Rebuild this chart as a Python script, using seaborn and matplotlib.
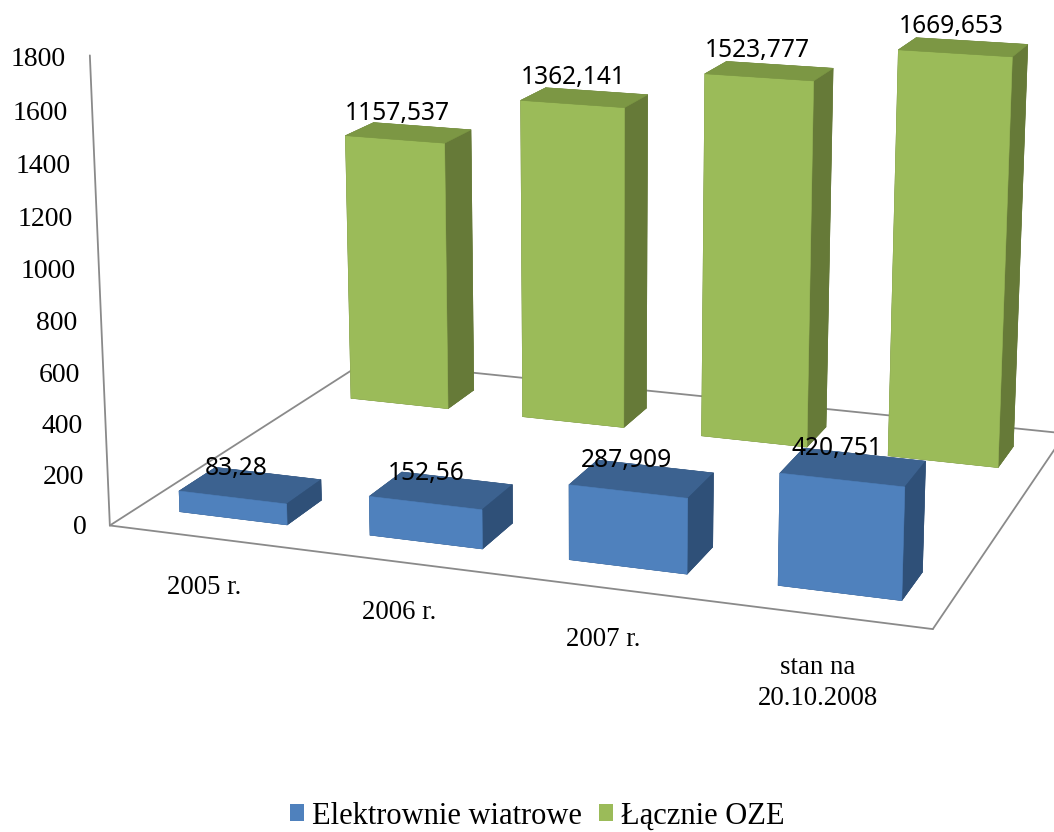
import matplotlib
matplotlib.use('Agg')
import matplotlib.pyplot as plt
import seaborn as sns
from matplotlib.patches import Patch
from mpl_toolkits.mplot3d import proj3d

# ---- data ----
categories = ['2005 r.', '2006 r.', '2007 r.', 'stan na\n20.10.2008']
wind = [83.28, 152.56, 287.909, 420.751]
total = [1157.537, 1362.141, 1523.777, 1669.653]
wind_labels = ['83,28', '152,56', '287,909', '420,751']
total_labels = ['1157,537', '1362,141', '1523,777', '1669,653']
series_names = ['Elektrownie wiatrowe', 'Łącznie OZE']
z_ticks = [0, 200, 400, 600, 800, 1000, 1200, 1400, 1600, 1800]

sns.set_theme(style='white')
plt.rcParams['font.family'] = ['Liberation Serif', 'DejaVu Serif']

W, H = 1054, 832
BLUE = sns.color_palette(['#4F81BD', '#3C6290', '#2F5078'])
GREEN = sns.color_palette(['#9BBB59', '#7C9744', '#667A38'])
GRID = '#8A8A8A'

fig = plt.figure(figsize=(W / 100, H / 100), dpi=100, facecolor='white')
ax = fig.add_axes([54.16 / W, 18.11 / H, 1083.9 / W, 1083.9 / H], projection='3d')
ax.computed_zorder = False


def faces(c):
    # -z, +z, -y, +y, -x, +x
    return [c[2], c[1], c[0], c[2], c[2], c[2]]


def bars(values, y0, depth, pal, z):
    for i, v in enumerate(values):
        col = faces(pal)
        ax.bar3d(i + 0.22, y0, 0, 0.57, depth, v, color=col, edgecolor=col,
                 linewidth=0.4, shade=False, zorder=z)


# floor and value axis
n = len(categories)
zmax = z_ticks[-1]
for xs, ys, zs in [([0, n], [0, 0], [0, 0]), ([0, 0], [0, 1], [0, 0]),
                   ([0, n], [1, 1], [0, 0]), ([n, n], [0, 1], [0, 0]),
                   ([0, 0], [0, 0], [0, zmax])]:
    ax.plot(xs, ys, zs, color=GRID, lw=1.3, zorder=1, clip_on=False)

bars(total, 0.771, 0.124, GREEN, 2)
bars(wind, 0.098, 0.130, BLUE, 3)

ax.set_xlim(0, n)
ax.set_ylim(0, 1)
ax.set_zlim(0, zmax)
ax.set_xticks([])
ax.set_yticks([])
ax.set_zticks([])
ax.set_axis_off()
ax.view_init(14.1692, -70.5474, -0.0648)
ax.set_proj_type('persp', focal_length=0.5054)
ax.set_box_aspect((1, 0.7412, 0.5664))
proj = ax.get_proj()


def label(x, y, z, s, **kw):
    # place the text at the projected position of a 3D data point
    px, py, _ = proj3d.proj_transform(x, y, z, proj)
    ax.text2D(px, py, s, transform=ax.transData, color='black', clip_on=False, **kw)


for z in z_ticks:
    label(-0.125, 0, z - 20, str(z), ha='right', va='center', fontsize=20, zorder=6)
for i, c in enumerate(categories):
    label(i + 0.49, 0, -150, c, ha='center', va='top', fontsize=19.3,
          zorder=6, linespacing=1.32)

lab_font = 'Noto Sans'
for i, (v, t) in enumerate(zip(wind, wind_labels)):
    label(i + 0.43, 0.163, v + 62, t, ha='center', va='center', fontsize=17.7,
          family=lab_font, zorder=7)
for i, (v, t) in enumerate(zip(total, total_labels)):
    label(i + 0.445, 0.83, v + 82, t, ha='center', va='center', fontsize=17.7,
          family=lab_font, zorder=7)

handles = [Patch(facecolor=BLUE[0], edgecolor='none'), Patch(facecolor=GREEN[0], edgecolor='none')]
fig.legend(handles, series_names, ncol=2, frameon=False, fontsize=22,
           loc='center', bbox_to_anchor=(537 / W, (H - 816) / H),
           handlelength=0.46, handleheight=0.46, handletextpad=0.25,
           columnspacing=0.57, labelcolor='black', borderpad=0, borderaxespad=0)

fig.savefig('out.png', dpi=100, facecolor='white')
